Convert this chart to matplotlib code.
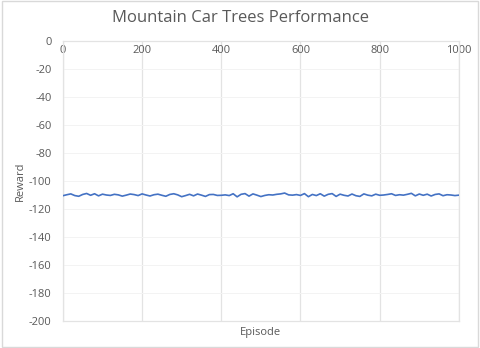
import matplotlib
matplotlib.use("Agg")
import matplotlib.pyplot as plt
from matplotlib.patches import Rectangle

episodes = list(range(0, 1001, 10))
rewards = [
    -110.5, -109.8, -109.2, -110.4, -110.9, -109.6, -108.9, -110.2, -109.1, -110.6,
    -109.4, -110.0, -110.3, -109.5, -109.9, -110.8, -110.1, -109.3, -109.7, -110.4,
    -109.2, -110.0, -110.7, -109.8, -109.4, -110.2, -110.9, -109.6, -109.1, -109.9,
    -111.2, -110.4, -109.5, -110.6, -109.3, -110.1, -111.0, -109.7, -109.6, -110.3,
    -110.2, -109.9, -110.4, -109.1, -111.3, -109.5, -109.0, -110.8, -109.2, -110.1,
    -111.1, -110.3, -109.8, -110.0, -109.5, -109.2, -108.6, -109.9, -110.1, -109.7,
    -110.3, -109.0, -111.2, -109.6, -110.4, -109.1, -110.8, -109.5, -109.0, -111.0,
    -109.4, -110.2, -110.7, -109.3, -110.5, -111.0, -109.2, -110.1, -110.6, -109.4,
    -110.2, -110.0, -109.6, -109.1, -110.3, -109.8, -110.1, -109.5, -108.8, -110.6,
    -109.3, -110.2, -109.4, -110.7, -109.6, -109.2, -110.5, -109.8, -110.0, -110.4,
    -110.1,
]

x_ticks = [0, 200, 400, 600, 800, 1000]
y_ticks = [0, -20, -40, -60, -80, -100, -120, -140, -160, -180, -200]

plt.rcParams['font.family'] = ['Open Sans', 'DejaVu Sans']
grey_text = '#595959'
grid_col = '#e3e3e3'

fig = plt.figure(figsize=(4.8, 3.48), dpi=100)
fig.patches.append(Rectangle((0.004, 0.004), 0.992, 0.992, transform=fig.transFigure,
                             fill=False, edgecolor='#d9d9d9', linewidth=1))
ax = fig.add_axes([0.131, 0.0776, 0.825, 0.8045])

ax.plot(episodes, rewards, color='#4472C4', linewidth=1.2, zorder=3)
ax.set_xlim(0, 1000)
ax.set_ylim(-200, 0)
ax.set_xticks(x_ticks)
ax.set_yticks(y_ticks)
ax.set_xticklabels([str(v) for v in x_ticks])
ax.set_yticklabels([str(v) for v in y_ticks])

ax.xaxis.tick_top()
ax.tick_params(axis='x', which='both', length=0, pad=-11, labelsize=8, colors=grey_text, labeltop=True, labelbottom=False)
ax.tick_params(axis='y', which='both', length=0, pad=8, labelsize=8, colors=grey_text)
ax.grid(axis='x', color=grid_col, linewidth=0.9)
ax.grid(axis='y', color='#f3f3f3', linewidth=0.7)
for s in ax.spines.values():
    s.set_color(grid_col)
    s.set_linewidth(0.9)

fig.text(0.5, 1 - 18 / 348, 'Mountain Car Trees Performance', fontsize=12, color=grey_text,
         ha='center', va='center')
ax.set_xlabel('Episode', fontsize=8, color=grey_text, labelpad=4)
ax.set_ylabel('Reward', fontsize=8, color=grey_text, labelpad=2)

fig.savefig('out.png', dpi=100)
